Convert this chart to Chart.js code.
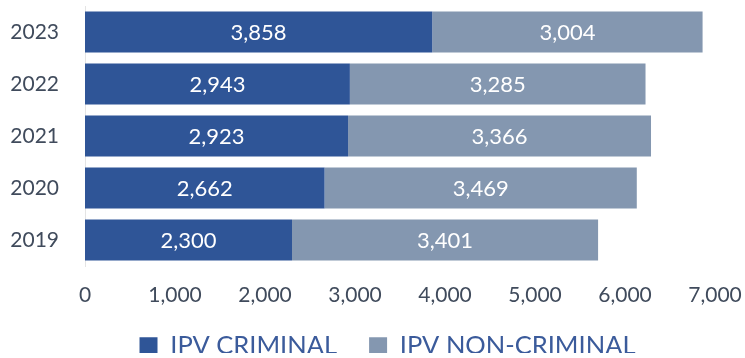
<!DOCTYPE html>
<html>
<head>
<meta charset="utf-8">
<script src="https://cdn.jsdelivr.net/npm/chart.js@4"></script>
<style>
  html, body { margin: 0; padding: 0; background: #fff; }
</style>
</head>
<body>
<canvas id="ipvChart" width="745" height="358"></canvas>
<script>
const years = ['2023', '2022', '2021', '2020', '2019'];
const criminal = [3858, 2943, 2923, 2662, 2300];
const nonCriminal = [3004, 3285, 3366, 3469, 3401];
const xMin = 0;
const xMax = 7000;
const xStep = 1000;

const fmt = (v) => Number(v).toLocaleString('en-US');

// white value labels in the middle of each bar segment
const barValues = {
    id: 'barValues',
    afterDatasetsDraw(chart) {
        const ctx = chart.ctx;
        ctx.save();
        ctx.font = '22px Lato';
        ctx.fillStyle = '#ffffff';
        ctx.textAlign = 'center';
        ctx.textBaseline = 'middle';
        chart.data.datasets.forEach((ds, i) => {
            chart.getDatasetMeta(i).data.forEach((bar, j) => {
                const p = bar.getCenterPoint();
                ctx.fillText(fmt(ds.data[j]), p.x, p.y + 1);
            });
        });
        ctx.restore();
    }
};

// short legend box, nudged a little right of centre
const legendPlace = {
    id: 'legendPlace',
    beforeInit(chart) {
        const legend = chart.legend;
        const fit = legend.fit;
        legend.fit = function () {
            fit.call(this);
            this.height = 52;
        };
    },
    afterLayout(chart) {
        const legend = chart.legend;
        legend.left += 30;
        legend.right += 30;
        legend.top -= 5;
        legend.bottom -= 5;
    }
};

const ctx = document.getElementById('ipvChart').getContext('2d');

const chart = new Chart(ctx, {
    type: 'bar',
    data: {
        labels: years,
        datasets: [
            {
                label: 'IPV CRIMINAL',
                data: criminal,
                backgroundColor: '#2F5597',
                borderWidth: 0,
                barPercentage: 0.79,
                categoryPercentage: 1
            },
            {
                label: 'IPV NON-CRIMINAL',
                data: nonCriminal,
                backgroundColor: '#8497B0',
                borderWidth: 0,
                barPercentage: 0.79,
                categoryPercentage: 1
            }
        ]
    },
    options: {
        indexAxis: 'y',
        responsive: false,
        animation: false,
        layout: {
            padding: { top: 6, left: 0, right: 30, bottom: 0 }
        },
        scales: {
            x: {
                stacked: true,
                min: xMin,
                max: xMax,
                grid: { display: false, drawTicks: false },
                border: { display: false },
                ticks: {
                    stepSize: xStep,
                    padding: 17,
                    color: '#404b5c',
                    font: { family: 'Lato', size: 21 },
                    callback: (v) => fmt(v)
                },
                afterFit(scale) {
                    scale.height = 40;
                    scale.paddingLeft = 0;
                    scale.paddingRight = 0;
                }
            },
            y: {
                stacked: true,
                grid: { display: false, drawTicks: false },
                border: { display: true, color: '#e4e4e4', width: 1 },
                ticks: {
                    padding: 26,
                    color: '#404b5c',
                    font: { family: 'Lato', size: 21 }
                },
                afterFit(scale) {
                    scale.width = 85;
                    scale.paddingTop = 0;
                    scale.paddingBottom = 0;
                }
            }
        },
        plugins: {
            legend: {
                position: 'bottom',
                labels: {
                    boxWidth: 18,
                    boxHeight: 17,
                    padding: 32,
                    color: '#3b5b9b',
                    font: { family: 'Lato', size: 25.5 }
                }
            },
            tooltip: { enabled: false }
        }
    },
    plugins: [barValues, legendPlace]
});
</script>
</body>
</html>
